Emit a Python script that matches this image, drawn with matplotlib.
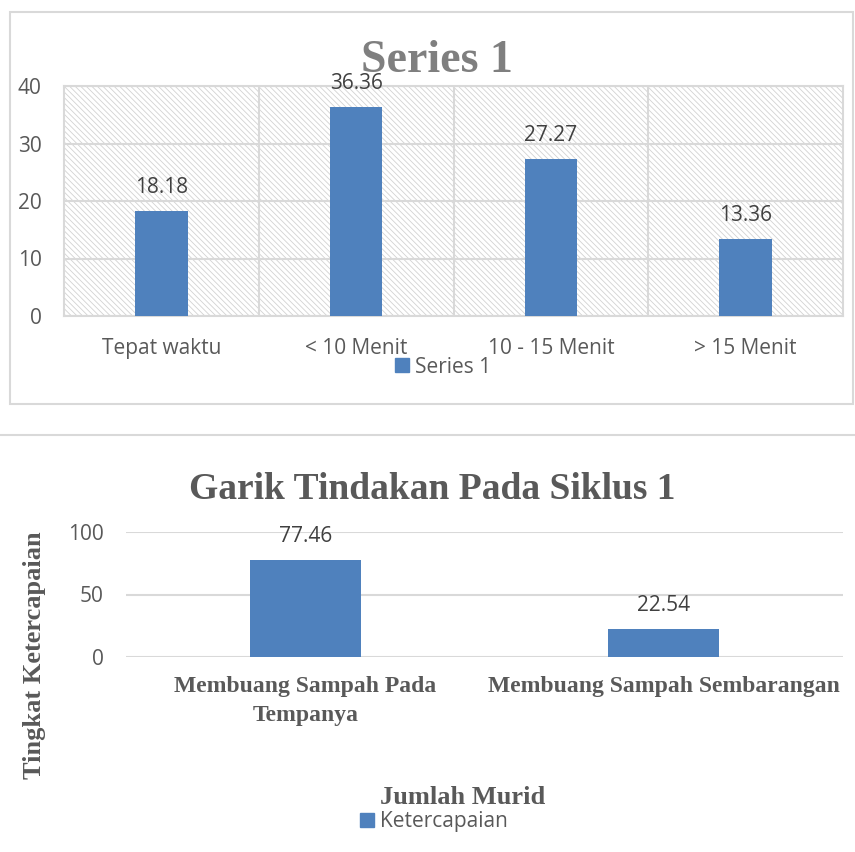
import matplotlib
matplotlib.use("Agg")
import matplotlib.pyplot as plt
from matplotlib.patches import Rectangle, Patch
from matplotlib.lines import Line2D

# ---- data ----
top_categories = ["Tepat waktu", "< 10 Menit", "10 - 15 Menit", "> 15 Menit"]
top_values = [18.18, 36.36, 27.27, 13.36]
top_series = "Series 1"
top_yticks = [0, 10, 20, 30, 40]

bot_categories = ["Membuang Sampah Pada\nTempanya", "Membuang Sampah Sembarangan"]
bot_values = [77.46, 22.54]
bot_series = "Ketercapaian"
bot_yticks = [0, 50, 100]
bot_title = "Garik Tindakan Pada Siklus 1"
bot_ylabel = "Tingkat Ketercapaian"
bot_xlabel = "Jumlah Murid"

W, H = 855, 852
BAR = "#4f81bd"
GRID = "#d9d9d9"
TXT = "#595959"
SANS = ["Open Sans", "DejaVu Sans"]
SERIF = ["Liberation Serif", "DejaVu Serif"]
FS = 15

plt.rcParams["hatch.linewidth"] = 0.6

fig = plt.figure(figsize=(W / 100, H / 100), dpi=100)


def px(x0, y0, x1, y1):
    return [x0 / W, 1 - y1 / H, (x1 - x0) / W, (y1 - y0) / H]


# ---- frames ----
fig.patches.append(Rectangle((10 / W, 1 - 404 / H), (853 - 10) / W, (404 - 12) / H,
                             transform=fig.transFigure, fill=False,
                             edgecolor=GRID, lw=1.5))
fig.add_artist(Line2D([0, 1], [1 - 435 / H, 1 - 435 / H], transform=fig.transFigure,
                      color=GRID, lw=1.5))

# ---- top chart ----
ax1 = fig.add_axes(px(64, 86, 843, 316))
ax1.add_patch(Rectangle((0, 0), 1, 1, transform=ax1.transAxes, facecolor="white",
                        edgecolor="#d2d2d2", hatch="\\\\\\\\\\\\", lw=0, zorder=0))
x1 = range(len(top_categories))
ax1.bar(x1, top_values, width=0.27, color=BAR, zorder=3)
ax1.set_xlim(-0.5, len(top_categories) - 0.5)
ax1.set_ylim(0, 40)
ax1.set_yticks(top_yticks)
ax1.set_xticks(list(x1))
ax1.set_xticklabels(top_categories)
ax1.yaxis.grid(True, color=GRID, lw=1.5, zorder=1)
for b in [0.5, 1.5, 2.5]:
    ax1.axvline(b, color=GRID, lw=1.5, zorder=1)
ax1.set_axisbelow(True)
for s in ax1.spines.values():
    s.set_color(GRID)
    s.set_linewidth(1.5)
ax1.tick_params(length=0, labelsize=FS, labelcolor=TXT)
ax1.tick_params(axis="y", pad=16)
ax1.tick_params(axis="x", pad=16)
for lab in ax1.get_xticklabels() + ax1.get_yticklabels():
    lab.set_family(SANS)
for xi, v in zip(x1, top_values):
    ax1.annotate(f"{v:.2f}", (xi, v), xytext=(0, 9.5), textcoords="offset points",
                 ha="center", va="bottom", fontsize=FS, color="#404040", family=SANS,
                 zorder=5)
fig.text(437 / W, 1 - 72 / H, top_series, ha="center", va="baseline", fontsize=33,
         fontweight="bold", color="#7f7f7f", family=SERIF)
fig.legend(handles=[Patch(color=BAR, label=top_series)], loc="center",
           bbox_to_anchor=(443 / W, 1 - 367 / H), frameon=False,
           handlelength=0.68, handleheight=0.68, handletextpad=0.3,
           prop={"family": SANS, "size": FS}, labelcolor=TXT)

# ---- bottom chart ----
ax2 = fig.add_axes(px(126, 532, 843, 657))
x2 = range(len(bot_categories))
ax2.bar(x2, bot_values, width=0.31, color=BAR, zorder=3)
ax2.set_xlim(-0.5, len(bot_categories) - 0.5)
ax2.set_ylim(0, 100)
ax2.set_yticks(bot_yticks)
ax2.set_xticks(list(x2))
ax2.set_xticklabels(bot_categories, family=SERIF, fontweight="bold", fontsize=17,
                    color=TXT, linespacing=1.45)
ax2.yaxis.grid(True, color=GRID, lw=1.5, zorder=1)
ax2.set_axisbelow(True)
for s in ax2.spines.values():
    s.set_visible(False)
ax2.tick_params(length=0)
ax2.tick_params(axis="y", pad=16, labelsize=FS, labelcolor=TXT)
ax2.tick_params(axis="x", pad=14)
for lab in ax2.get_yticklabels():
    lab.set_family(SANS)
for xi, v in zip(x2, bot_values):
    ax2.annotate(f"{v:.2f}", (xi, v), xytext=(0, 9.5), textcoords="offset points",
                 ha="center", va="bottom", fontsize=FS, color="#404040", family=SANS,
                 zorder=5)
fig.text(432 / W, 1 - 499 / H, bot_title, ha="center", va="baseline", fontsize=27,
         fontweight="bold", color=TXT, family=SERIF)
fig.text(35 / W, 1 - 655 / H, bot_ylabel, ha="center", va="center", rotation=90,
         fontsize=19, fontweight="bold", color=TXT, family=SERIF)
fig.text(463 / W, 1 - 804 / H, bot_xlabel, ha="center", va="baseline",
         fontsize=19, fontweight="bold", color=TXT, family=SERIF)
fig.legend(handles=[Patch(color=BAR, label=bot_series)], loc="center",
           bbox_to_anchor=(434 / W, 1 - 822 / H), frameon=False,
           handlelength=0.68, handleheight=0.68, handletextpad=0.3,
           prop={"family": SANS, "size": FS}, labelcolor=TXT)

fig.savefig("out.png", dpi=100, facecolor="white")
